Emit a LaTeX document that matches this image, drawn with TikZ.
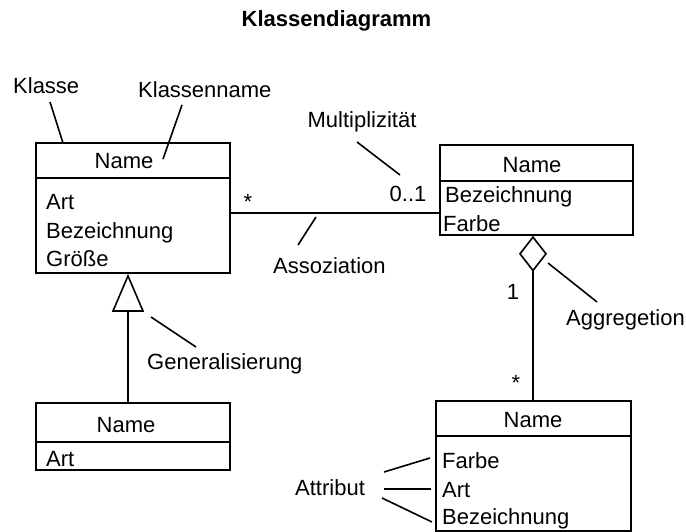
\documentclass[tikz,border=0pt]{standalone}
\usepackage{fontspec}
\setmainfont{Liberation Sans}
\usetikzlibrary{arrows.meta}
\begin{document}
\begin{tikzpicture}[x=1pt,y=-1pt,
  every node/.style={font=\fontsize{22}{26}\selectfont, inner sep=0pt},
  box/.style={draw, line width=1.6pt, inner sep=0pt},
  lbl/.style={anchor=base},
  attr/.style={anchor=base west},
  lead/.style={line width=1.6pt},
  conn/.style={line width=1.6pt}]
\useasboundingbox (0,0) rectangle (686,532);

% title
\node[lbl, font=\fontsize{22}{26}\selectfont\bfseries] (title) at (336.5,27) {Klassendiagramm};

% class 1 (top left)
\node[box, minimum width=194pt, minimum height=35pt] (k1n) at (133,160.5) {};
\node[box, minimum width=194pt, minimum height=95pt] (k1a) at (133,225.5) {};
\node[lbl] (k1name) at (124,169) {Name};
\node[attr] (k1art) at (46,210) {Art};
\node[attr] (k1bez) at (46,238) {Bezeichnung};
\node[attr] (k1gr) at (46,266) {Größe};

% class 2 (top right)
\node[box, minimum width=193pt, minimum height=36pt] (k2n) at (536.5,163) {};
\node[box, minimum width=193pt, minimum height=54pt] (k2a) at (536.5,208) {};
\node[lbl] (k2name) at (532,173) {Name};
\node[attr] (k2bez) at (445,203) {Bezeichnung};
\node[attr] (k2fa) at (443,231) {Farbe};

% class 3 (bottom left)
\node[box, minimum width=194pt, minimum height=39pt] (k3n) at (133,422.5) {};
\node[box, minimum width=194pt, minimum height=28pt] (k3a) at (133,456) {};
\node[lbl] (k3name) at (126,432) {Name};
\node[attr] (k3art) at (46,466) {Art};

% class 4 (bottom right)
\node[box, minimum width=195pt, minimum height=35pt] (k4n) at (533.5,418.5) {};
\node[box, minimum width=195pt, minimum height=95pt] (k4a) at (533.5,483.5) {};
\node[lbl] (k4name) at (533,427) {Name};
\node[attr] (k4fa) at (442,468) {Farbe};
\node[attr] (k4art) at (442,497) {Art};
\node[attr] (k4bez) at (442,524) {Bezeichnung};

% multiplicities
\node[lbl] (m1) at (248,210) {*};
\node[lbl] (m2) at (408,201) {0..1};
\node[lbl] (m3) at (513,299) {1};
\node[lbl] (m4) at (516,390) {*};

% explanatory labels
\node[attr] (lklasse) at (13,94) {Klasse};
\node[attr] (lkname) at (138,98) {Klassenname};
\node[lbl] (lmult) at (362,128) {Multiplizität};
\node[attr] (lassoc) at (273,273) {Assoziation};
\node[attr] (laggr) at (566,325) {Aggregetion};
\node[attr] (lgen) at (147,369) {Generalisierung};
\node[attr] (lattr) at (295,495) {Attribut};

% connectors between classes
\coordinate (assocy) at (0,213);
\coordinate (gx) at (128,0);
\coordinate (ax) at (533,0);
\draw[conn] (k1a.east |- assocy) -- (k2a.west |- assocy);
\draw[conn, -{Triangle[open, length=38pt, width=32pt]}] (k3n.north -| gx) -- (k1a.south -| gx);
\draw[conn, {Diamond[open, length=36pt, width=28pt]}-] (k2a.south -| ax) -- (k4n.north -| ax);

% leader lines of the labels
\coordinate (c1a) at (50,102);  \coordinate (c1b) at (63,143);
\coordinate (c2a) at (182,105); \coordinate (c2b) at (163,159);
\coordinate (c3a) at (357,142); \coordinate (c3b) at (400,175);
\coordinate (c4a) at (316,217); \coordinate (c4b) at (298,245);
\coordinate (c5a) at (548,263); \coordinate (c5b) at (597,302);
\coordinate (c6a) at (151,317); \coordinate (c6b) at (196,347);
\coordinate (c7a) at (384,472); \coordinate (c7b) at (430,458);
\coordinate (c8a) at (384,489); \coordinate (c8b) at (431,489);
\coordinate (c9a) at (382,498); \coordinate (c9b) at (432,522);
\draw[lead] (c1a) -- (c1b);
\draw[lead] (c2a) -- (c2b);
\draw[lead] (c3a) -- (c3b);
\draw[lead] (c4a) -- (c4b);
\draw[lead] (c5a) -- (c5b);
\draw[lead] (c6a) -- (c6b);
\draw[lead] (c7a) -- (c7b);
\draw[lead] (c8a) -- (c8b);
\draw[lead] (c9a) -- (c9b);
\end{tikzpicture}
\end{document}
